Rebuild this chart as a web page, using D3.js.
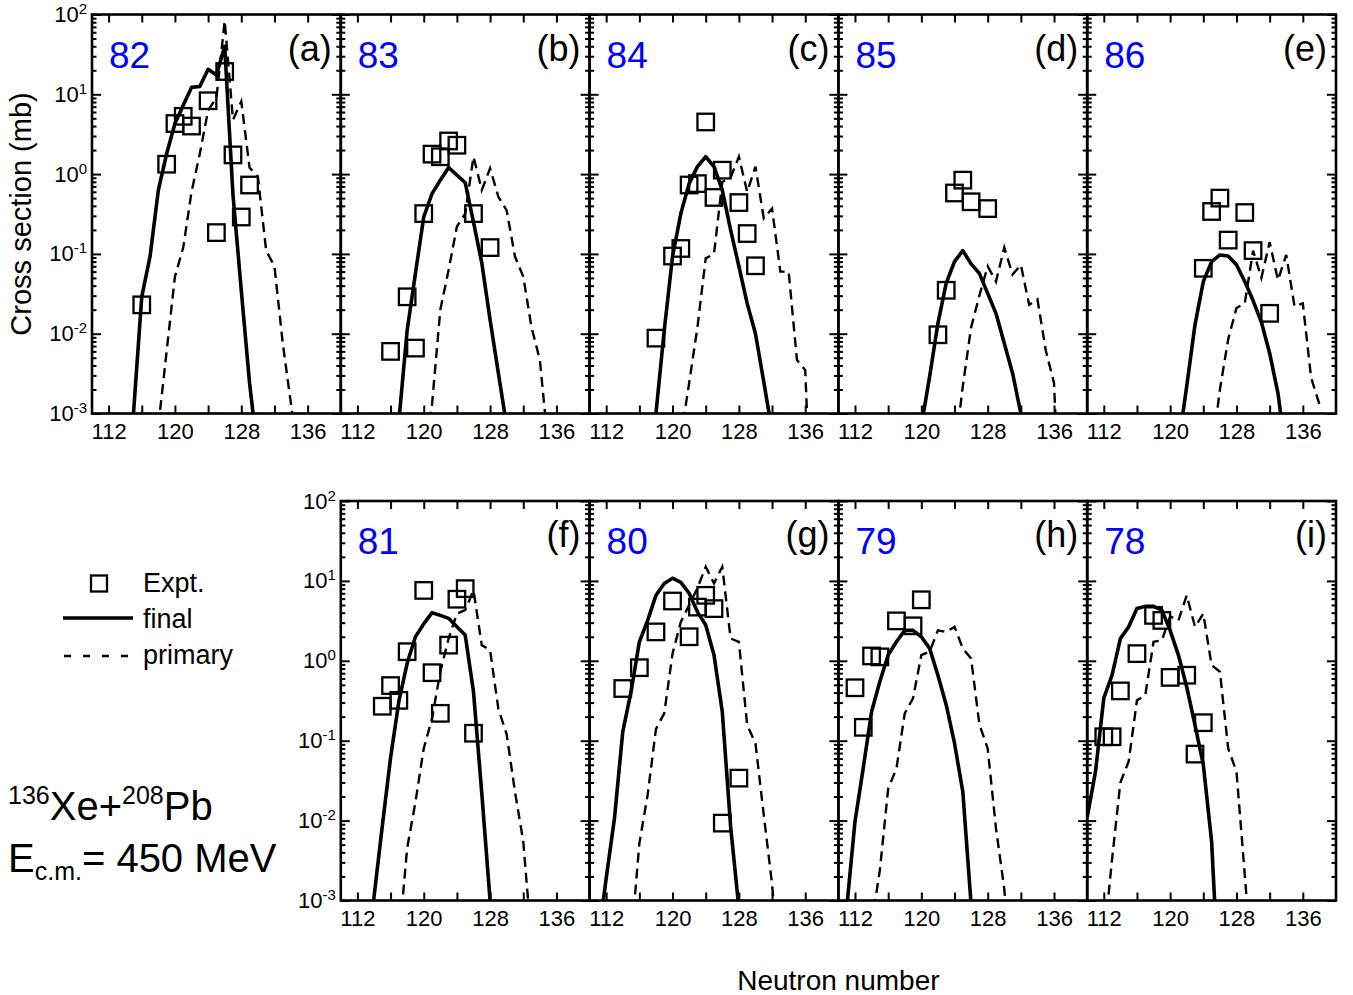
<!DOCTYPE html>
<html>
<head>
<meta charset="utf-8">
<script src="https://cdn.jsdelivr.net/npm/d3@7"></script>
<style>
  html, body { margin: 0; padding: 0; background: #fff; }
  svg { display: block; font-family: "Liberation Sans", Arial, Helvetica, sans-serif; }
</style>
</head>
<body>
<svg id="chart" width="1353" height="995"></svg>
<script>
// ---- Isotopic cross sections, 136Xe + 208Pb at Ec.m. = 450 MeV ----
// Each series is a list of [neutron number, cross section (mb)].

const protonNumbers = [82, 83, 84, 85, 86, 81, 80, 79, 78];
const panelTags = ["(a)", "(b)", "(c)", "(d)", "(e)", "(f)", "(g)", "(h)", "(i)"];
const xTickValues = [112, 116, 120, 124, 128, 132, 136];
const xLabelValues = [112, 120, 128, 136];
const xDomain = [110, 140];
const yDomain = [1e-3, 1e2];
const legendLabels = ["Expt.", "final", "primary"];

// Z = 82
const exptZ82 = [[116,0.023],[119,1.33],[120,4.3],[121,5.3],[122,4.0],[124,8.3],[125,0.185],[126,19.3],[127,1.74],[128,0.29],[129,0.73]];
const finalZ82 = [[115,0.001],[116,0.029],[117,0.093],[118,0.63],[119,1.8],[120,4.3],[121,7.3],[122,12.2],[123,12.5],[124,20.6],[125,17.5],[126,40],[127,0.55],[128,0.035],[129,0.0024],[130,0.0003]];
const primaryZ82 = [[118,0.0007],[119,0.006],[120,0.052],[121,0.12],[122,0.6],[123,1.8],[124,6.3],[125,9],[126,83],[127,4.8],[128,8.1],[129,1.2],[130,0.93],[131,0.11],[132,0.07],[133,0.0076],[134,0.0013],[135,0.0002]];

// Z = 83
const exptZ83 = [[116,0.006],[118,0.029],[119,0.0066],[120,0.32],[121,1.78],[122,1.65],[123,2.6],[124,2.3],[126,0.32],[128,0.12]];
const finalZ83 = [[117,0.0008],[118,0.011],[119,0.057],[120,0.29],[121,0.57],[122,0.84],[123,1.21],[124,0.97],[125,0.78],[126,0.25],[127,0.077],[128,0.015],[129,0.0032],[130,0.0007]];
const primaryZ83 = [[120,0.0002],[121,0.0013],[122,0.02],[123,0.063],[124,0.22],[125,0.32],[126,1.65],[127,0.63],[128,1.18],[129,0.52],[130,0.35],[131,0.093],[132,0.052],[133,0.012],[134,0.0047],[135,0.0004]];

// Z = 84
const exptZ84 = [[118,0.0088],[120,0.094],[121,0.117],[122,0.73],[123,0.76],[124,4.5],[125,0.51],[126,1.12],[128,0.44],[129,0.18],[130,0.071]];
const finalZ84 = [[118,0.001],[119,0.011],[120,0.093],[121,0.32],[122,0.76],[123,1.24],[124,1.65],[125,1.24],[126,0.63],[127,0.2],[128,0.07],[129,0.024],[130,0.01],[131,0.0025],[132,0.0006]];
const primaryZ84 = [[121,0.0005],[122,0.0024],[123,0.012],[124,0.088],[125,0.1],[126,0.8],[127,0.9],[128,1.65],[129,0.6],[130,1.24],[131,0.28],[132,0.37],[133,0.06],[134,0.06],[135,0.0047],[136,0.0035],[137,0.00001]];

// Z = 85
const exptZ85 = [[122,0.0097],[123,0.035],[124,0.58],[125,0.84],[126,0.45],[128,0.37]];
const finalZ85 = [[120,0.0007],[121,0.0029],[122,0.0135],[123,0.043],[124,0.08],[125,0.11],[126,0.075],[127,0.057],[128,0.032],[129,0.018],[130,0.0076],[131,0.0032],[132,0.001],[133,0.0003]];
const primaryZ85 = [[124,0.0003],[125,0.0022],[126,0.012],[127,0.03],[128,0.07],[129,0.045],[130,0.12],[131,0.055],[132,0.073],[133,0.023],[134,0.027],[135,0.0062],[136,0.0024],[137,0.00001]];

// Z = 86
const exptZ86 = [[124,0.066],[125,0.34],[126,0.5],[127,0.149],[129,0.33],[130,0.11],[132,0.018]];
const finalZ86 = [[121,0.0004],[122,0.0022],[123,0.013],[124,0.045],[125,0.08],[126,0.097],[127,0.094],[128,0.073],[129,0.045],[130,0.026],[131,0.014],[132,0.0057],[133,0.0018],[134,0.0003]];
const primaryZ86 = [[125,0.0003],[126,0.002],[127,0.0085],[128,0.021],[129,0.024],[130,0.11],[131,0.05],[132,0.14],[133,0.047],[134,0.097],[135,0.022],[136,0.024],[137,0.0028],[138,0.0013]];

// Z = 81
const exptZ81 = [[115,0.27],[116,0.49],[117,0.32],[118,1.3],[120,7.6],[121,0.71],[122,0.22],[123,1.57],[124,5.9],[125,8.0],[126,0.124]];
const finalZ81 = [[113,0.0002],[114,0.0011],[115,0.0085],[116,0.061],[117,0.31],[118,0.93],[119,2.0],[120,2.9],[121,4.0],[122,3.7],[123,3.4],[124,2.66],[125,2.1],[126,0.41],[127,0.022],[128,0.001],[129,0.0001]];
const primaryZ81 = [[117,0.0003],[118,0.0045],[119,0.017],[120,0.08],[121,0.19],[122,0.73],[123,1.9],[124,3.9],[125,4.3],[126,7.6],[127,1.57],[128,1.36],[129,0.25],[130,0.12],[131,0.023],[132,0.0055],[133,0.0003]];

// Z = 80
const exptZ80 = [[114,0.45],[116,0.82],[118,2.3],[120,5.6],[122,2.0],[123,4.7],[124,6.6],[125,4.5],[126,0.0093],[128,0.034]];
const finalZ80 = [[111,0.0003],[112,0.0019],[113,0.0107],[114,0.13],[115,0.41],[116,1.73],[117,3.2],[118,6.6],[119,9.3],[120,10.8],[121,9.6],[122,7.0],[123,4.1],[124,2.8],[125,1.18],[126,0.23],[127,0.0085],[128,0.0008]];
const primaryZ80 = [[115,0.0003],[116,0.0052],[117,0.021],[118,0.14],[119,0.22],[120,1.23],[121,3.07],[122,5.0],[123,8.1],[124,15],[125,9.3],[126,15],[127,1.9],[128,1.73],[129,0.157],[130,0.093],[131,0.0118],[132,0.0016],[133,0.0001]];

// Z = 79
const exptZ79 = [[112,0.46],[113,0.147],[114,1.15],[115,1.12],[117,3.16],[119,2.74],[120,5.8]];
const finalZ79 = [[111,0.0008],[112,0.0097],[113,0.046],[114,0.23],[115,0.55],[116,1.18],[117,1.73],[118,2.4],[119,2.4],[120,2.0],[121,1.43],[122,0.66],[123,0.28],[124,0.093],[125,0.023],[126,0.0009]];
const primaryZ79 = [[114,0.0005],[115,0.0024],[116,0.025],[117,0.045],[118,0.22],[119,0.34],[120,1.18],[121,1.3],[122,2.4],[123,2.3],[124,2.66],[125,1.43],[126,1.07],[127,0.16],[128,0.08],[129,0.008],[130,0.0014],[131,0.0001]];

// Z = 78
const exptZ78 = [[112,0.112],[113,0.112],[114,0.42],[116,1.23],[118,3.7],[119,3.2],[120,0.62],[122,0.66],[123,0.068],[124,0.168]];
const finalZ78 = [[110,0.011],[111,0.041],[112,0.34],[113,0.66],[114,1.9],[115,2.66],[116,4.5],[117,4.8],[118,4.8],[119,4.3],[120,2.4],[121,1.18],[122,0.47],[123,0.157],[124,0.05],[125,0.0055],[126,0.00005]];
const primaryZ78 = [[112,0.0003],[113,0.0033],[114,0.03],[115,0.055],[116,0.32],[117,0.37],[118,1.73],[119,1.8],[120,3.6],[121,3.2],[122,6.6],[123,2.66],[124,3.9],[125,0.88],[126,0.73],[127,0.08],[128,0.041],[129,0.0021],[130,0.0001]];

// lookup tables keyed by proton number
const exptByZ = {82: exptZ82, 83: exptZ83, 84: exptZ84, 85: exptZ85, 86: exptZ86, 81: exptZ81, 80: exptZ80, 79: exptZ79, 78: exptZ78};
const finalByZ = {82: finalZ82, 83: finalZ83, 84: finalZ84, 85: finalZ85, 86: finalZ86, 81: finalZ81, 80: finalZ80, 79: finalZ79, 78: finalZ78};
const primaryByZ = {82: primaryZ82, 83: primaryZ83, 84: primaryZ84, 85: primaryZ85, 86: primaryZ86, 81: primaryZ81, 80: primaryZ80, 79: primaryZ79, 78: primaryZ78};

// ---- layout ----
const svg = d3.select("#chart");
const panelLeft = 92, panelW = 248.8;
const rows = [{ top: 14.5, bottom: 413.5 }, { top: 501, bottom: 900.5 }];
// [row, column] of every panel, in the order of protonNumbers
const grid = [[0,0],[0,1],[0,2],[0,3],[0,4],[1,1],[1,2],[1,3],[1,4]];
const SQ = 16.5;

function superscriptLabel(g, xPos, yPos, exponent) {
  const t = g.append("text")
    .attr("x", xPos).attr("y", yPos)
    .attr("text-anchor", "end")
    .attr("font-size", 22);
  t.append("tspan").text("10");
  t.append("tspan").attr("font-size", 15).attr("dy", -8).text(String(exponent));
}

protonNumbers.forEach((z, i) => {
  const [r, c] = grid[i];
  const row = rows[r];
  const x0 = panelLeft + c * panelW;
  const x = d3.scaleLinear().domain(xDomain).range([x0, x0 + panelW]);
  const y = d3.scaleLog().domain(yDomain).range([row.bottom, row.top]);

  const g = svg.append("g");
  const clipId = "clip" + i;
  svg.append("defs").append("clipPath").attr("id", clipId)
    .append("rect").attr("x", x0).attr("y", row.top).attr("width", panelW).attr("height", row.bottom - row.top);

  const line = d3.line().x(d => x(d[0])).y(d => y(d[1]));
  const plot = g.append("g").attr("clip-path", `url(#${clipId})`);

  plot.append("path").datum(primaryByZ[z])
    .attr("d", line).attr("fill", "none").attr("stroke", "#000")
    .attr("stroke-width", 2.4).attr("stroke-dasharray", "10,6");
  plot.append("path").datum(finalByZ[z])
    .attr("d", line).attr("fill", "none").attr("stroke", "#000")
    .attr("stroke-width", 3.6).attr("stroke-linejoin", "round");

  g.append("g").selectAll("rect").data(exptByZ[z]).join("rect")
    .attr("x", d => x(d[0]) - SQ / 2).attr("y", d => y(d[1]) - SQ / 2)
    .attr("width", SQ).attr("height", SQ)
    .attr("fill", "none").attr("stroke", "#000").attr("stroke-width", 2.3);

  // ticks (inward on all four sides)
  const tickStyle = sel => {
    sel.select(".domain").remove();
    sel.selectAll(".tick line").attr("stroke", "#000").attr("stroke-width", 2);
  };
  const xb = g.append("g").attr("transform", `translate(0,${row.bottom})`)
    .call(d3.axisBottom(x).tickValues(xTickValues).tickSize(-8).tickPadding(10)
      .tickFormat(d => xLabelValues.includes(d) ? d3.format("d")(d) : ""));
  tickStyle(xb);
  xb.selectAll(".tick text").attr("font-size", 22).attr("fill", "#000")
    .attr("font-family", '"Liberation Sans", Arial, sans-serif');
  const xt = g.append("g").attr("transform", `translate(0,${row.top})`)
    .call(d3.axisTop(x).tickValues(xTickValues).tickSize(-8).tickFormat(""));
  tickStyle(xt);

  const allY = y.ticks();
  const majorY = allY.filter(v => Math.abs(Math.log10(v) - Math.round(Math.log10(v))) < 1e-9);
  const minorY = allY.filter(v => !majorY.includes(v));
  [[d3.axisLeft, x0], [d3.axisRight, x0 + panelW]].forEach(([axisFn, xp]) => {
    const a1 = g.append("g").attr("transform", `translate(${xp},0)`)
      .call(axisFn(y).tickValues(majorY).tickSize(-9).tickFormat(""));
    tickStyle(a1);
    const a2 = g.append("g").attr("transform", `translate(${xp},0)`)
      .call(axisFn(y).tickValues(minorY).tickSize(-4.5).tickFormat(""));
    tickStyle(a2);
  });

  // y tick labels on the first panel of each row
  if (i === 0 || i === 5) {
    majorY.forEach(v => superscriptLabel(g, x0 - 5, y(v) + 7.5, Math.round(Math.log10(v))));
  }

  // frame
  g.append("rect").attr("x", x0).attr("y", row.top).attr("width", panelW).attr("height", row.bottom - row.top)
    .attr("fill", "none").attr("stroke", "#000").attr("stroke-width", 2.6);

  // proton number and panel tag
  g.append("text").attr("x", x0 + 17).attr("y", row.top + 53)
    .attr("font-size", 37).attr("fill", "#0000ff").text(z);
  g.append("text").attr("x", x0 + panelW - 9).attr("y", row.top + 46)
    .attr("text-anchor", "end").attr("font-size", 36).attr("fill", "#000").text(panelTags[i]);
});

// axis titles
svg.append("text")
  .attr("transform", `translate(31,${(rows[0].top + rows[0].bottom) / 2}) rotate(-90)`)
  .attr("text-anchor", "middle").attr("font-size", 29).text("Cross section (mb)");
svg.append("text")
  .attr("x", panelLeft + panelW + 2 * panelW).attr("y", 990)
  .attr("text-anchor", "middle").attr("font-size", 28).text("Neutron number");

// legend
const lg = svg.append("g");
lg.append("rect").attr("x", 99 - 8).attr("y", 583.5 - 8).attr("width", 16).attr("height", 16)
  .attr("fill", "none").attr("stroke", "#000").attr("stroke-width", 2.3);
lg.append("line").attr("x1", 63).attr("x2", 133).attr("y1", 618).attr("y2", 618)
  .attr("stroke", "#000").attr("stroke-width", 3.6);
lg.append("line").attr("x1", 64).attr("x2", 132).attr("y1", 656).attr("y2", 656)
  .attr("stroke", "#000").attr("stroke-width", 2.4).attr("stroke-dasharray", "7,12");
[592, 628, 664].forEach((yy, k) => {
  lg.append("text").attr("x", 143).attr("y", yy).attr("font-size", 27).text(legendLabels[k]);
});

// reaction and energy
const rx = svg.append("text").attr("x", 8).attr("y", 820).attr("font-size", 40);
rx.append("tspan").attr("font-size", 25).attr("dy", -16).text("136");
rx.append("tspan").attr("dy", 16).text("Xe+");
rx.append("tspan").attr("font-size", 25).attr("dy", -16).text("208");
rx.append("tspan").attr("dy", 16).text("Pb");

const en = svg.append("text").attr("x", 8).attr("y", 872).attr("font-size", 40);
en.append("tspan").text("E");
en.append("tspan").attr("font-size", 25).attr("dy", 8).text("c.m.");
en.append("tspan").attr("dy", -8).text("= 450 MeV");
</script>
</body>
</html>
